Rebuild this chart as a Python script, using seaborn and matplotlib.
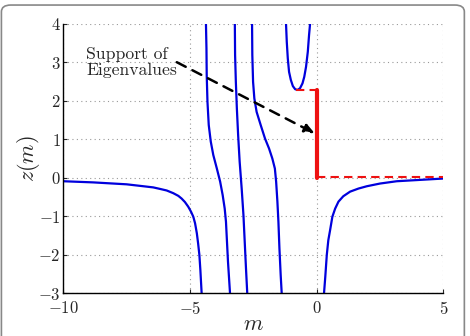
import numpy as np
import pandas as pd
import seaborn as sns
import matplotlib.pyplot as plt
from matplotlib.patches import FancyBboxPatch

# branches of z(m)
b1_m = [-10, -8.82, -7.5, -6.84, -6.45, -6.18, -5.92, -5.66, -5.46, -5.33, -5.20, -5.07,
        -4.96, -4.87, -4.80, -4.73, -4.68, -4.63, -4.59, -4.54]
b1_z = [-0.09, -0.12, -0.17, -0.22, -0.25, -0.29, -0.33, -0.40, -0.47, -0.54, -0.63, -0.75,
        -0.88, -1.01, -1.18, -1.44, -1.70, -2.0, -2.40, -3.0]

b2_m = [-4.37, -4.35, -4.34, -4.31, -4.26, -4.18, -4.08, -3.94, -3.81, -3.71, -3.63, -3.58,
        -3.54, -3.50, -3.42]
b2_z = [4.0, 3.36, 2.67, 1.97, 1.37, 0.94, 0.59, 0.24, -0.10, -0.45, -0.80, -1.14,
        -1.66, -2.18, -3.0]

b3_m = [-3.23, -3.22, -3.19, -3.15, -3.10, -3.04, -2.96, -2.89, -2.84, -2.79, -2.74]
b3_z = [4.0, 3.19, 2.49, 1.80, 1.11, 0.42, -0.28, -0.97, -1.66, -2.35, -3.0]

b4_m = [-2.55, -2.54, -2.51, -2.46, -2.37, -2.21, -2.04, -1.88, -1.75, -1.65, -1.60, -1.55,
        -1.51, -1.47, -1.42, -1.38]
b4_z = [4.0, 3.19, 2.49, 2.06, 1.71, 1.37, 1.02, 0.76, 0.50, 0.24, -0.10, -0.62,
        -1.14, -1.83, -2.53, -3.0]

b5_m = [-1.21, -1.18, -1.14, -1.09, -1.02, -0.94, -0.85, -0.76, -0.66, -0.56, -0.49, -0.42,
        -0.35, -0.30, -0.26]
b5_z = [4.0, 3.53, 3.10, 2.75, 2.54, 2.38, 2.30, 2.28, 2.32, 2.45, 2.62, 2.88,
        3.27, 3.71, 4.0]

b6_m = [0.29, 0.34, 0.40, 0.46, 0.53, 0.62, 0.73, 0.86, 1.05, 1.32, 1.65, 1.98, 2.50,
        3.16, 3.95, 5.0]
b6_z = [-3.0, -2.57, -2.0, -1.62, -1.36, -1.01, -0.80, -0.62, -0.48, -0.36, -0.28, -0.22,
        -0.15, -0.09, -0.06, -0.02]

# support of eigenvalues
sup_lo, sup_hi = 0.0, 2.28
u_min_m = -0.80
tail_z = 0.03

sns.set_style("white")
plt.rcParams['font.family'] = 'serif'
plt.rcParams['font.serif'] = ['cmr10', 'DejaVu Serif']
plt.rcParams['mathtext.fontset'] = 'cm'
plt.rcParams['axes.formatter.use_mathtext'] = True

fig = plt.figure(figsize=(4.7, 3.36), dpi=100)
ax = fig.add_axes([0.1347, 0.127, 0.8086, 0.8025])

# frame around the figure
fig.patches.append(FancyBboxPatch((0.003, -0.05), 0.985, 1.035, boxstyle="round,pad=0,rounding_size=0.02",
                                  transform=fig.transFigure, fill=False, edgecolor='#888888', lw=1.2))

branches = [(b1_m, b1_z), (b2_m, b2_z), (b3_m, b3_z), (b4_m, b4_z), (b5_m, b5_z), (b6_m, b6_z)]
for mm, zz in branches:
    sns.lineplot(x=mm, y=zz, ax=ax, color='#0000dd', lw=1.6, sort=False, estimator=None)

red = '#ee1111'
sns.lineplot(x=[u_min_m, 0], y=[sup_hi, sup_hi], ax=ax, color=red, lw=1.5, linestyle=(0, (4, 2.5)),
             sort=False, estimator=None)
sns.lineplot(x=[0, 5], y=[tail_z, tail_z], ax=ax, color=red, lw=1.5, linestyle=(0, (4, 2.5)),
             sort=False, estimator=None)
sns.lineplot(x=[0, 0], y=[sup_lo, sup_hi], ax=ax, color=red, lw=3.0, sort=False, estimator=None)

ax.annotate("", xy=(-0.07, 1.15), xytext=(-5.52, 3.0),
            arrowprops=dict(arrowstyle='-|>,head_length=0.6,head_width=0.25', linestyle=(0, (4, 3)),
                            color='k', lw=1.8, shrinkA=0, shrinkB=0))
ax.text(-9.1, 3.0, "Support of\nEigenvalues", fontsize=12.7, va='center', ha='left', linespacing=1.1)

ax.set_xlim(-10, 5)
ax.set_ylim(-3, 4)
ax.set_xticks([-10, -5, 0, 5])
ax.set_yticks(range(-3, 5))
ax.grid(True, linestyle=(0, (1, 3)), color='#999999', lw=0.8)
for s in ['top', 'right']:
    ax.spines[s].set_visible(False)
for s in ['left', 'bottom']:
    ax.spines[s].set_color('k')
    ax.spines[s].set_linewidth(1.0)
ax.tick_params(direction='in', length=3, labelsize=12, pad=2, left=True, bottom=True)
ax.tick_params(axis='x', pad=5)

ax.set_xlabel("$m$", fontsize=16, labelpad=-2)
ax.set_ylabel("$z(m)$", fontsize=16, labelpad=-3)

fig.savefig("out.png", dpi=100)
